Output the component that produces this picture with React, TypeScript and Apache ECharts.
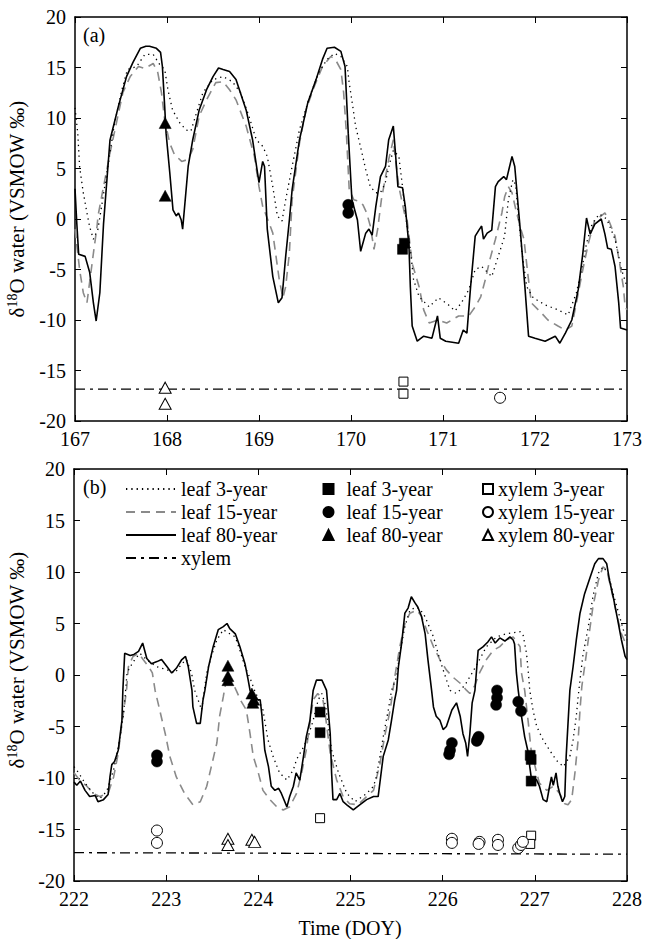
import React, { useEffect, useRef } from "react";
import * as echarts from "echarts";

const FONT = "Liberation Serif";

// ---------- tick labels ----------
const xTicksA = [167, 168, 169, 170, 171, 172, 173];
const xTicksB = [222, 223, 224, 225, 226, 227, 228];
const yTicks = [-20, -15, -10, -5, 0, 5, 10, 15, 20];

// ---------- panel (a) : DOY 167-173 ----------
const aLeaf3: number[][] = [
  [167.0, 11.0], [167.03, 8.5], [167.05, 5.2], [167.09, 2.6], [167.13, 0.6], [167.16, -0.8], [167.2, -2.0],
  [167.25, -1.0], [167.3, 1.9], [167.38, 6.5], [167.43, 9.5], [167.51, 12.8], [167.57, 14.8], [167.67, 15.1],
  [167.76, 16.3], [167.85, 16.3], [167.92, 15.3], [167.975, 14.8], [168.01, 12.8], [168.06, 10.8], [168.14, 9.5],
  [168.21, 8.8], [168.26, 8.7], [168.32, 10.5], [168.39, 12.5], [168.5, 13.8], [168.61, 14.1], [168.71, 13.6],
  [168.8, 12.5], [168.89, 10.2], [168.97, 7.85], [169.04, 7.2], [169.09, 6.2], [169.15, 3.2], [169.2, 0.3],
  [169.25, -0.2], [169.29, 1.9], [169.36, 5.2], [169.44, 8.85], [169.55, 12.1], [169.65, 14.5], [169.74, 15.8],
  [169.82, 16.4], [169.89, 16.1], [169.96, 15.1], [169.98, 13.5], [170.02, 11.1], [170.05, 9.2], [170.11, 6.9],
  [170.16, 4.9], [170.21, 3.2], [170.27, 2.6], [170.32, 2.6], [170.37, 3.5], [170.42, 5.5], [170.46, 6.8],
  [170.52, 6.2], [170.56, 3.2], [170.59, 0.6], [170.65, -3.4], [170.68, -6.0], [170.74, -7.7], [170.85, -8.7],
  [170.95, -7.8], [171.06, -8.5], [171.13, -9.1], [171.2, -8.3], [171.28, -7.0], [171.35, -5.0], [171.42, -4.7],
  [171.53, -5.7], [171.6, -3.7], [171.67, -1.7], [171.71, 1.9], [171.76, 3.9], [171.79, 3.4], [171.82, 0.3],
  [171.86, -3.4], [171.91, -6.7], [171.98, -7.8], [172.11, -8.5], [172.25, -9.0], [172.36, -9.5], [172.45, -7.3],
  [172.52, -4.4], [172.56, -2.4], [172.62, -0.5], [172.7, 0.5], [172.78, 0.0], [172.87, -2.0], [172.94, -5.0],
  [173.0, -6.7],
];
const aLeaf15: number[][] = [
  [167.0, -1.0], [167.05, -5.0], [167.09, -7.3], [167.13, -8.3], [167.2, -3.4], [167.24, -0.7], [167.25, 0.3],
  [167.31, 3.2], [167.38, 6.5], [167.45, 9.5], [167.52, 12.5], [167.6, 14.1], [167.69, 15.1], [167.76, 14.9],
  [167.85, 15.4], [167.9, 14.5], [167.94, 12.5], [167.975, 9.8], [168.03, 7.5], [168.08, 6.4], [168.16, 5.7],
  [168.23, 5.9], [168.28, 6.9], [168.35, 10.2], [168.43, 11.8], [168.53, 13.5], [168.61, 13.6], [168.68, 12.8],
  [168.75, 11.8], [168.86, 9.2], [168.95, 6.2], [169.0, 3.2], [169.04, 1.25], [169.11, -0.4], [169.15, -1.4],
  [169.22, -6.0], [169.26, -7.8], [169.29, -6.7], [169.33, -3.4], [169.36, 1.9], [169.44, 7.5], [169.51, 10.8],
  [169.6, 13.1], [169.69, 15.1], [169.78, 16.1], [169.83, 15.8], [169.89, 14.8], [169.92, 12.5], [169.95, 8.5],
  [169.98, 3.0], [170.03, 1.9], [170.09, 1.75], [170.13, 1.4], [170.17, 0.6], [170.21, -0.7], [170.25, -3.0],
  [170.29, -1.0], [170.33, 1.9], [170.41, 5.9], [170.46, 7.85], [170.48, 6.2], [170.52, 3.2], [170.58, 0.6],
  [170.61, -0.1], [170.665, -4.4], [170.74, -6.7], [170.79, -9.0], [170.85, -10.3], [170.95, -10.0],
  [171.04, -10.3], [171.17, -9.6], [171.28, -9.6], [171.35, -8.7], [171.41, -7.7], [171.46, -6.0], [171.51, -4.0],
  [171.57, -2.0], [171.64, 0.6], [171.67, 2.2], [171.71, 3.2], [171.75, 2.6], [171.8, 0.6], [171.85, -1.1],
  [171.88, -2.0], [171.92, -5.3], [171.96, -8.3], [172.07, -9.3], [172.14, -10.0], [172.25, -10.6], [172.33, -11.0],
  [172.4, -10.6], [172.45, -8.3], [172.52, -5.0], [172.58, -2.4], [172.65, -0.1], [172.72, 0.3], [172.76, 0.6],
  [172.8, -0.1], [172.87, -1.7], [172.92, -4.4], [172.96, -6.7], [172.98, -8.7], [173.0, -9.0],
];
const aLeaf80: number[][] = [
  [167.0, 3.0], [167.02, -0.5], [167.04, -3.5], [167.11, -3.7], [167.16, -5.3], [167.2, -8.3], [167.23, -10.1],
  [167.27, -7.3], [167.31, -0.5], [167.38, 7.8], [167.47, 11.1], [167.56, 14.1], [167.63, 15.5], [167.71, 16.9],
  [167.77, 17.1], [167.81, 17.1], [167.885, 16.9], [167.93, 16.5], [167.95, 15.1], [167.975, 11.1], [167.99, 8.5],
  [168.03, 4.6], [168.065, 0.9], [168.1, 0.3], [168.125, 0.6], [168.155, -0.1], [168.17, -1.0], [168.23, 5.2],
  [168.28, 7.85], [168.35, 10.8], [168.43, 12.8], [168.5, 14.1], [168.56, 14.95], [168.61, 14.8], [168.68, 14.6],
  [168.75, 13.8], [168.86, 10.8], [168.93, 7.85], [169.0, 3.6], [169.04, 5.7], [169.06, 5.2], [169.09, -1.0],
  [169.15, -5.7], [169.21, -8.3], [169.25, -7.8], [169.29, -3.7], [169.33, -0.1], [169.36, 2.9], [169.44, 7.85],
  [169.53, 11.5], [169.62, 13.8], [169.69, 15.8], [169.74, 16.9], [169.82, 17.0], [169.89, 16.6], [169.935, 15.1],
  [169.97, 8.5], [170.01, 1.9], [170.07, -0.1], [170.105, -3.2], [170.16, -1.4], [170.195, -1.0], [170.23, -1.6],
  [170.27, 1.25], [170.32, 4.2], [170.375, 5.2], [170.41, 7.85], [170.46, 9.2], [170.48, 6.9], [170.51, 3.2],
  [170.56, 3.1], [170.59, 1.25], [170.63, -2.7], [170.645, -6.7], [170.665, -10.6], [170.72, -12.1],
  [170.79, -11.6], [170.88, -11.8], [170.94, -9.6], [170.97, -11.8], [171.03, -12.1], [171.17, -12.3],
  [171.22, -11.0], [171.26, -11.3], [171.3, -6.7], [171.35, -1.7], [171.39, -1.1], [171.42, -0.7], [171.44, -2.0],
  [171.48, -1.4], [171.53, -1.1], [171.57, 3.2], [171.6, 3.7], [171.66, 4.2], [171.69, 3.9], [171.75, 6.2],
  [171.78, 5.2], [171.84, -1.1], [171.89, -6.7], [171.93, -11.6], [172.0, -11.8], [172.11, -12.1], [172.22, -11.6],
  [172.27, -12.3], [172.33, -11.3], [172.4, -10.0], [172.47, -7.0], [172.52, -3.4], [172.56, 0.1], [172.6, -1.5],
  [172.65, -0.5], [172.72, 0.0], [172.76, -1.5], [172.79, -2.9], [172.83, -3.0], [172.87, -4.7], [172.91, -8.3],
  [172.93, -10.8], [173.0, -11.0],
];
const aXylem: number[][] = [[167.0, -16.85], [173.0, -16.85]];
const aLeaf3Obs: number[][] = [[170.58, -2.4], [170.56, -3.0]];
const aLeaf15Obs: number[][] = [[169.97, 1.4], [169.97, 0.6]];
const aLeaf80Obs: number[][] = [[167.98, 9.5], [167.98, 2.3]];
const aXylem3Obs: number[][] = [[170.57, -16.1], [170.57, -17.3]];
const aXylem15Obs: number[][] = [[171.62, -17.7]];
const aXylem80Obs: number[][] = [[167.98, -16.7], [167.98, -18.3]];

// ---------- panel (b) : DOY 222-228 ----------
const bLeaf3: number[][] = [
  [222.0, -8.9], [222.05, -9.5], [222.12, -10.5], [222.21, -11.5], [222.28, -12.0], [222.355, -11.3],
  [222.43, -9.2], [222.48, -7.0], [222.535, -4.0], [222.56, -1.5], [222.575, 0.2], [222.61, 0.8], [222.66, 1.5],
  [222.715, 2.1], [222.8, 1.4], [222.9, 0.8], [223.01, 0.5], [223.095, 0.2], [223.17, 1.1], [223.22, 1.5],
  [223.275, 0.2], [223.31, -1.5], [223.385, -3.4], [223.44, 0.2], [223.49, 1.8], [223.55, 3.4], [223.62, 4.4],
  [223.69, 4.0], [223.75, 3.7], [223.8, 2.4], [223.855, 0.8], [223.91, -0.3], [223.96, -1.5], [224.05, -3.4],
  [224.105, -6.3], [224.16, -7.9], [224.23, -9.5], [224.31, -10.2], [224.38, -9.2], [224.415, -8.2],
  [224.49, -7.0], [224.54, -6.0], [224.595, -4.4], [224.65, -2.4], [224.69, -1.8], [224.73, -3.0],
  [224.795, -7.3], [224.87, -9.5], [224.96, -11.5], [225.05, -12.3], [225.175, -11.5], [225.25, -10.8],
  [225.28, -9.9], [225.32, -7.9], [225.355, -6.0], [225.41, -3.4], [225.445, -1.5], [225.5, -0.2], [225.535, 2.1],
  [225.59, 4.7], [225.645, 6.3], [225.72, 6.6], [225.79, 6.0], [225.84, 5.0], [225.9, 3.7], [225.95, 2.1],
  [226.005, 0.5], [226.08, -1.5], [226.15, -1.8], [226.24, -1.0], [226.32, 0.2], [226.4, 1.5], [226.475, 2.75],
  [226.585, 3.7], [226.69, 4.0], [226.84, 4.2], [226.87, 4.0], [226.91, 2.1], [226.93, 0.2], [226.945, -1.5],
  [226.98, -3.4], [227.02, -5.0], [227.09, -6.3], [227.16, -7.3], [227.235, -8.3], [227.31, -8.9], [227.38, -7.9],
  [227.415, -6.3], [227.45, -4.0], [227.47, -2.1], [227.49, -0.5], [227.52, 1.8], [227.58, 4.7], [227.63, 7.6],
  [227.69, 9.9], [227.74, 10.5], [227.795, 9.9], [227.85, 7.9], [227.9, 6.3], [227.96, 4.4], [228.0, 3.4],
];
const bLeaf15: number[][] = [
  [222.0, -9.5], [222.07, -10.3], [222.14, -10.8], [222.21, -11.5], [222.28, -11.8], [222.37, -11.5],
  [222.43, -9.9], [222.48, -7.6], [222.52, -4.7], [222.57, -1.5], [222.59, 0.8], [222.64, 1.8], [222.7, 2.1],
  [222.75, 1.5], [222.81, 0.8], [222.85, 0.2], [222.88, -1.5], [222.93, -3.4], [222.99, -5.7], [223.04, -7.9],
  [223.11, -9.9], [223.2, -11.5], [223.29, -12.6], [223.37, -12.3], [223.44, -10.8], [223.49, -8.9],
  [223.55, -6.6], [223.58, -4.0], [223.62, -2.1], [223.64, -1.1], [223.66, -0.2], [223.67, 0.2], [223.71, -0.5],
  [223.76, -1.5], [223.81, -2.5], [223.87, -3.4], [223.91, -5.7], [223.945, -7.9], [224.0, -9.5], [224.05, -11.2],
  [224.125, -12.1], [224.2, -12.8], [224.27, -13.1], [224.34, -12.8], [224.415, -11.5], [224.47, -9.5],
  [224.52, -7.3], [224.56, -4.7], [224.595, -2.4], [224.645, -1.8], [224.7, -2.4], [224.72, -3.4], [224.78, -7.6],
  [224.85, -10.2], [224.92, -11.8], [224.99, -12.5], [225.08, -12.6], [225.175, -11.8], [225.25, -11.2],
  [225.32, -8.6], [225.37, -6.0], [225.43, -3.4], [225.46, -1.5], [225.48, -0.2], [225.535, 2.75], [225.59, 5.0],
  [225.645, 6.0], [225.72, 6.3], [225.77, 5.7], [225.825, 4.4], [225.9, 2.75], [225.97, 1.5], [226.04, 0.5],
  [226.11, -0.2], [226.19, -0.8], [226.26, -1.5], [226.295, -1.8], [226.35, -1.0], [226.4, 0.2], [226.475, 1.5],
  [226.55, 2.4], [226.62, 2.75], [226.69, 3.4], [226.765, 3.7], [226.84, 2.75], [226.855, 0.2], [226.89, -1.5],
  [226.93, -4.7], [226.96, -7.3], [227.02, -9.5], [227.05, -10.5], [227.13, -11.2], [227.2, -10.8],
  [227.27, -11.5], [227.325, -12.5], [227.36, -12.6], [227.4, -12.1], [227.435, -9.5], [227.47, -6.3],
  [227.49, -3.4], [227.51, -1.1], [227.54, 0.8], [227.58, 3.4], [227.63, 6.6], [227.69, 9.2], [227.74, 10.5],
  [227.78, 10.2], [227.83, 8.3], [227.885, 6.0], [227.94, 4.0], [228.0, 2.75],
];
const bLeaf80: number[][] = [
  [222.0, -10.4], [222.03, -10.7], [222.07, -10.3], [222.12, -11.2], [222.17, -11.8], [222.23, -11.7],
  [222.26, -12.3], [222.32, -12.1], [222.37, -11.6], [222.39, -9.9], [222.41, -8.7], [222.44, -8.4],
  [222.48, -7.3], [222.52, -4.4], [222.53, -1.5], [222.55, 2.1], [222.61, 1.9], [222.65, 2.0], [222.7, 2.3],
  [222.745, 3.1], [222.79, 1.6], [222.84, 1.1], [222.9, 1.3], [222.95, 1.5], [223.01, 0.8], [223.06, 0.2],
  [223.11, 0.65], [223.17, 1.5], [223.21, 1.8], [223.24, 0.8], [223.28, -1.5], [223.29, -3.1], [223.33, -4.7],
  [223.37, -4.7], [223.4, -2.4], [223.42, -1.5], [223.46, 0.8], [223.51, 2.75], [223.565, 4.4], [223.62, 4.7],
  [223.66, 5.0], [223.69, 4.5], [223.75, 4.0], [223.8, 2.75], [223.855, 1.1], [223.89, -0.5], [223.91, -1.5],
  [223.98, -2.4], [224.02, -2.4], [224.04, -4.0], [224.07, -7.3], [224.11, -8.9], [224.14, -10.8], [224.18, -11.2],
  [224.22, -11.0], [224.25, -11.5], [224.31, -12.8], [224.34, -11.8], [224.38, -10.8], [224.41, -9.5],
  [224.45, -10.2], [224.49, -7.9], [224.52, -6.0], [224.56, -4.4], [224.595, -1.5], [224.63, -0.5], [224.69, -0.5],
  [224.74, -1.5], [224.78, -5.7], [224.795, -9.5], [224.81, -12.1], [224.85, -12.1], [224.885, -11.5],
  [224.92, -12.3], [224.96, -12.6], [225.03, -13.1], [225.1, -12.6], [225.175, -12.1], [225.25, -11.8],
  [225.3, -11.8], [225.355, -7.9], [225.41, -6.3], [225.445, -4.4], [225.48, -2.4], [225.5, -1.5], [225.52, 0.8],
  [225.555, 3.1], [225.59, 6.0], [225.625, 6.5], [225.66, 7.6], [225.7, 7.0], [225.73, 6.6], [225.77, 5.7],
  [225.81, 4.0], [225.84, 1.5], [225.88, -1.5], [225.9, -3.1], [225.93, -4.0], [225.97, -4.4], [226.005, -5.3],
  [226.04, -5.0], [226.1, -3.4], [226.15, -2.7], [226.19, -4.0], [226.22, -5.7], [226.25, -6.6], [226.27, -7.9],
  [226.295, -5.7], [226.32, -2.7], [226.35, -1.5], [226.385, 2.4], [226.44, 2.75], [226.49, 3.2], [226.53, 3.7],
  [226.57, 3.1], [226.62, 3.6], [226.675, 3.3], [226.73, 3.7], [226.765, 3.4], [226.78, 3.0], [226.8, 0.2],
  [226.82, -1.5], [226.855, -4.0], [226.89, -6.0], [226.93, -7.6], [226.945, -8.9], [226.96, -9.9],
  [227.02, -10.2], [227.05, -10.8], [227.09, -12.1], [227.13, -12.3], [227.16, -10.8], [227.18, -9.9],
  [227.2, -10.7], [227.23, -9.5], [227.25, -10.8], [227.27, -11.5], [227.3, -12.3], [227.325, -11.8],
  [227.34, -7.9], [227.36, -4.7], [227.38, -1.5], [227.415, 0.8], [227.45, 3.4], [227.49, 6.0], [227.54, 7.9],
  [227.6, 9.5], [227.65, 10.8], [227.69, 11.3], [227.74, 11.3], [227.78, 10.8], [227.81, 9.2], [227.85, 7.6],
  [227.9, 5.3], [227.94, 3.4], [227.98, 1.8], [228.0, 1.5],
];
const bXylem: number[][] = [[222.0, -17.25], [228.0, -17.4]];
const bLeaf3Obs: number[][] = [[224.67, -3.6], [224.67, -5.6], [226.95, -7.8], [226.96, -8.2], [226.96, -10.3]];
const bLeaf15Obs: number[][] = [
  [222.9, -7.8], [222.9, -8.4], [226.1, -6.6], [226.08, -7.3], [226.07, -7.7], [226.39, -6.0], [226.38, -6.2],
  [226.37, -6.4], [226.59, -1.5], [226.59, -2.2], [226.58, -2.9], [226.82, -2.6], [226.85, -3.5],
];
const bLeaf80Obs: number[][] = [
  [223.67, 0.9], [223.67, -0.1], [223.67, -0.5], [223.93, -1.8], [223.95, -2.4], [223.94, -2.7],
];
const bXylem3Obs: number[][] = [[224.67, -13.9], [226.96, -15.6], [226.95, -16.4]];
const bXylem15Obs: number[][] = [
  [222.9, -15.1], [222.9, -16.3], [226.1, -15.9], [226.1, -16.3], [226.4, -16.2], [226.39, -16.4],
  [226.6, -16.0], [226.6, -16.5], [226.82, -16.8], [226.85, -16.5], [226.87, -16.2],
];
const bXylem80Obs: number[][] = [[223.67, -15.9], [223.67, -16.5], [223.93, -16.0], [223.96, -16.2]];

// ---------- names ----------
const LINE_NAMES = ["leaf 3-year", "leaf 15-year", "leaf 80-year", "xylem"];
const LEAF_OBS_NAMES = ["leaf 3-year (obs)", "leaf 15-year (obs)", "leaf 80-year (obs)"];
const XYLEM_OBS_NAMES = ["xylem 3-year", "xylem 15-year", "xylem 80-year"];

function panelSeries(axis: number, d: any) {
  const base = { xAxisIndex: axis, yAxisIndex: axis, animation: false, emphasis: { disabled: true } };
  const line = (name: string, data: number[][], lineStyle: any, z: number) => ({
    ...base, type: "line", name, data, symbol: "none", showSymbol: false, lineStyle, z,
    itemStyle: { color: lineStyle.color },
  });
  const sc = (name: string, data: number[][], symbol: string, size: any, filled: boolean) => ({
    ...base, type: "scatter", name, data, symbol, symbolSize: size, z: 10,
    itemStyle: filled
      ? { color: "#000", borderColor: "#000", borderWidth: 0.5, opacity: 1 }
      : { color: "#fff", borderColor: "#000", borderWidth: 1, opacity: 1 },
  });
  return [
    line(LINE_NAMES[0], d.leaf3, { color: "#000", width: 1.3, type: [1.3, 4] }, 3),
    line(LINE_NAMES[1], d.leaf15, { color: "#8a8a8a", width: 1.6, type: [9, 6] }, 2),
    line(LINE_NAMES[2], d.leaf80, { color: "#000", width: 1.6, type: "solid" }, 4),
    line(LINE_NAMES[3], d.xylem, { color: "#000", width: 1.3, type: [10, 5, 3, 5] }, 3),
    sc(LEAF_OBS_NAMES[0], d.l3o, "rect", 10, true),
    sc(LEAF_OBS_NAMES[1], d.l15o, "circle", 11, true),
    sc(LEAF_OBS_NAMES[2], d.l80o, "triangle", [12, 11], true),
    sc(XYLEM_OBS_NAMES[0], d.x3o, "rect", 9, false),
    sc(XYLEM_OBS_NAMES[1], d.x15o, "circle", 11, false),
    sc(XYLEM_OBS_NAMES[2], d.x80o, "triangle", [12, 11], false),
  ];
}

const tickStyle = { show: true, inside: true, length: 6, lineStyle: { color: "#000", width: 1 } };
const axisLineStyle = { show: true, onZero: false, lineStyle: { color: "#000", width: 1.5 } };
const labelStyle = { fontFamily: FONT, fontSize: 20, color: "#000" };

function xAx(grid: number, ticks: number[], top: boolean) {
  return {
    type: "value", gridIndex: grid, position: top ? "top" : "bottom",
    min: ticks[0], max: ticks[ticks.length - 1], interval: 1,
    axisLine: axisLineStyle, axisTick: tickStyle, splitLine: { show: false },
    axisLabel: top ? { show: false } : { ...labelStyle, margin: 8 },
  };
}
function yAx(grid: number, right: boolean) {
  return {
    type: "value", gridIndex: grid, position: right ? "right" : "left",
    min: yTicks[0], max: yTicks[yTicks.length - 1], interval: 5,
    axisLine: axisLineStyle, axisTick: tickStyle, splitLine: { show: false },
    axisLabel: right ? { show: false } : { ...labelStyle, margin: 9 },
  };
}

const legendText = { fontFamily: FONT, fontSize: 20, color: "#000", lineHeight: 20 };

function yTitle(x: number, y: number) {
  return {
    type: "text", x, y, rotation: Math.PI / 2, silent: true,
    style: {
      text: "{d|δ}{s|18}{d|O water (VSMOW ‰)}",
      align: "center", verticalAlign: "middle", fill: "#000",
      rich: {
        d: { fontFamily: FONT, fontSize: 21, lineHeight: 24, fill: "#000" },
        s: { fontFamily: FONT, fontSize: 14, lineHeight: 14, verticalAlign: "top", fill: "#000" },
      },
    },
  };
}

function applySerif(root: HTMLElement | null) {
  if (!root) return;
  root.querySelectorAll("text, tspan").forEach((n) => {
    const el = n as SVGElement;
    el.setAttribute("font-family", FONT);
    el.style.fontFamily = `"${FONT}", serif`;
  });
}

export default function App() {
  const ref = useRef<HTMLDivElement>(null);
  useEffect(() => {
    if (!ref.current) return;
    const chart = echarts.init(ref.current, undefined, { renderer: "svg" });
    const option: any = {
      animation: false,
      backgroundColor: "#fff",
      textStyle: { fontFamily: FONT },
      grid: [
        { left: 75, top: 17, width: 554, height: 404, containLabel: false },
        { left: 74, top: 469, width: 553.5, height: 412, containLabel: false },
      ],
      xAxis: [xAx(0, xTicksA, false), xAx(0, xTicksA, true), xAx(1, xTicksB, false), xAx(1, xTicksB, true)],
      yAxis: [yAx(0, false), yAx(0, true), yAx(1, false), yAx(1, true)],
      legend: [
        {
          orient: "vertical", left: 125, top: 479, padding: 0, itemGap: 3, itemWidth: 50, itemHeight: 14,
          data: LINE_NAMES, textStyle: legendText, selectedMode: false,
          itemStyle: { color: "rgba(0,0,0,0)", borderColor: "rgba(0,0,0,0)", borderWidth: 0, opacity: 0 },
        },
        {
          orient: "vertical", left: 322.5, top: 479, padding: 0, itemGap: 3, itemWidth: 10, itemHeight: 10,
          data: LEAF_OBS_NAMES, textStyle: { ...legendText, padding: [0, 0, 0, 8] }, selectedMode: false,
          formatter: (n: string) => n.replace(" (obs)", ""),
        },
        {
          orient: "vertical", left: 482, top: 479, padding: 0, itemGap: 3, itemWidth: 10, itemHeight: 10,
          data: XYLEM_OBS_NAMES, textStyle: legendText, selectedMode: false,
        },
      ],
      graphic: [
        { type: "text", left: 83, top: 25, silent: true, style: { text: "(a)", fontFamily: FONT, fontSize: 20, fill: "#000" } },
        { type: "text", left: 83, top: 477, silent: true, style: { text: "(b)", fontFamily: FONT, fontSize: 20, fill: "#000" } },
        yTitle(17, 209),
        yTitle(17, 660),
        {
          type: "text", x: 350, y: 928, silent: true,
          style: { text: "Time (DOY)", fontFamily: FONT, fontSize: 20, fill: "#000", align: "center", verticalAlign: "middle" },
        },
      ],
      series: [
        ...panelSeries(0, {
          leaf3: aLeaf3, leaf15: aLeaf15, leaf80: aLeaf80, xylem: aXylem,
          l3o: aLeaf3Obs, l15o: aLeaf15Obs, l80o: aLeaf80Obs, x3o: aXylem3Obs, x15o: aXylem15Obs, x80o: aXylem80Obs,
        }),
        ...panelSeries(2, {
          leaf3: bLeaf3, leaf15: bLeaf15, leaf80: bLeaf80, xylem: bXylem,
          l3o: bLeaf3Obs, l15o: bLeaf15Obs, l80o: bLeaf80Obs, x3o: bXylem3Obs, x15o: bXylem15Obs, x80o: bXylem80Obs,
        }),
      ],
    };
    chart.setOption(option);
    applySerif(ref.current);
    const onRender = () => applySerif(ref.current);
    chart.on("finished", onRender);
    return () => {
      chart.off("finished", onRender);
      chart.dispose();
    };
  }, []);
  return (
    <div
      ref={ref}
      style={{
        position: "absolute", left: 0, top: 0, width: 645, height: 939, background: "#fff",
        fontFamily: `"${FONT}", serif`,
      }}
    />
  );
}
